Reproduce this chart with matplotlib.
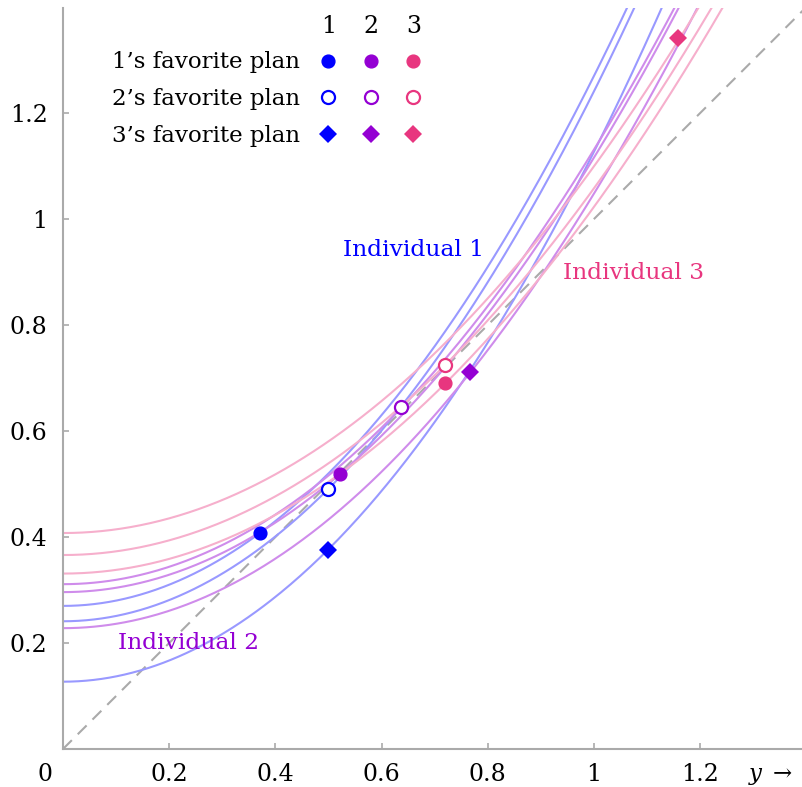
import matplotlib
matplotlib.use("Agg")
import matplotlib.pyplot as plt
import numpy as np

plt.rcParams['font.family'] = ['DejaVu Serif']
plt.rcParams['mathtext.fontset'] = 'dejavuserif'

# ---- data ----
individuals = ["Individual 1", "Individual 2", "Individual 3"]
marker_colors = ["#0000FF", "#9400D3", "#E8367F"]
curve_colors = ["#9999FF", "#CF8CEB", "#F6AFCC"]
curvature = [1.0, 0.82, 0.692]
# intercepts of each individual's indifference curves, by plan (1's, 2's, 3's favourite)
intercepts_ind1 = [0.270, 0.241, 0.127]
intercepts_ind2 = [0.296, 0.311, 0.228]
intercepts_ind3 = [0.331, 0.366, 0.4075]
# plan positions as seen by each individual
plan_x_ind1 = [0.371, 0.499, 0.499]
plan_y_ind1 = [0.4075, 0.4906, 0.3760]
plan_x_ind2 = [0.522, 0.636, 0.766]
plan_y_ind2 = [0.519, 0.645, 0.711]
plan_x_ind3 = [0.719, 0.719, 1.159]
plan_y_ind3 = [0.690, 0.7245, 1.341]
plan_labels = ["1\u2019s favorite plan", "2\u2019s favorite plan", "3\u2019s favorite plan"]
x_ticks = [0.2, 0.4, 0.6, 0.8, 1.0, 1.2]
x_ticklabels = ["0.2", "0.4", "0.6", "0.8", "1", "1.2"]
y_ticks = [0.2, 0.4, 0.6, 0.8, 1.0, 1.2]
y_ticklabels = ["0.2", "0.4", "0.6", "0.8", "1", "1.2"]

intercepts = [intercepts_ind1, intercepts_ind2, intercepts_ind3]
plan_x = [plan_x_ind1, plan_x_ind2, plan_x_ind3]
plan_y = [plan_y_ind1, plan_y_ind2, plan_y_ind3]

W, H = 802, 787
fig = plt.figure(figsize=(W / 100, H / 100), dpi=100)
x0, y0 = 63, 749
sx, sy = 531.0, 530.0
ax = fig.add_axes([x0 / W, (H - y0) / H, (W - x0) / W, (y0 - 8) / H])
ax.set_xlim(0, (W - x0) / sx)
ax.set_ylim(0, (y0 - 8) / sy)

def px(x):
    return (x - x0) / sx

def py(y):
    return (y0 - y) / sy

# diagonal
ax.plot([0, 1.5], [0, 1.5], color="#AAAAAA", lw=1.5, ls=(0, (6, 4)), zorder=1)

# curves
xs = np.linspace(0, 1.45, 400)
for i in range(3):
    for c in intercepts[i]:
        ax.plot(xs, c + curvature[i] * xs ** 2, color=curve_colors[i], lw=1.5, zorder=2)

# markers
def draw_marker(x, y, j, col):
    if j == 0:
        ax.plot(x, y, 'o', ms=9.2, color=col, mec=col, zorder=5, clip_on=False)
    elif j == 1:
        ax.plot(x, y, 'o', ms=9.4, mfc='white', mec=col, mew=1.6, zorder=5, clip_on=False)
    else:
        ax.plot(x, y, 'D', ms=9.4, color=col, mec=col, mew=0, zorder=5, clip_on=False)

for i in range(3):
    for j in range(3):
        draw_marker(plan_x[i][j], plan_y[i][j], j, marker_colors[i])

# legend table
fs = 16.5
col_x = [px(328.3), px(370.7), px(413.3)]
row_y = [py(61), py(97.3), py(134.3)]
row_base = [py(68.3), py(105), py(141.7)]
for i in range(3):
    ax.text(col_x[i], py(33.3), str(i + 1), ha='center', va='baseline', fontsize=17)
for j in range(3):
    ax.text(px(300), row_base[j], plan_labels[j], ha='right', va='baseline', fontsize=fs)
    for i in range(3):
        draw_marker(col_x[i], row_y[j], j, marker_colors[i])

# individual labels
ax.text(px(343), py(255.7), individuals[0], color=marker_colors[0], fontsize=16.8, ha='left', va='baseline')
ax.text(px(118), py(649), individuals[1], color=marker_colors[1], fontsize=16.8, ha='left', va='baseline')
ax.text(px(563), py(279.3), individuals[2], color=marker_colors[2], fontsize=16.8, ha='left', va='baseline')

# axes styling
for s in ['top', 'right']:
    ax.spines[s].set_visible(False)
for s in ['left', 'bottom']:
    ax.spines[s].set_color("#AAAAAA")
    ax.spines[s].set_linewidth(1.5)
ax.set_xticks(x_ticks)
ax.set_xticklabels(x_ticklabels)
ax.set_yticks(y_ticks)
ax.set_yticklabels(y_ticklabels)
ax.tick_params(direction='in', length=4, width=1.2, color="#AAAAAA", labelsize=17)
ax.tick_params(axis='x', pad=10)
ax.tick_params(axis='y', pad=11)

# origin label and axis arrow label
ax.text(px(45), py(781), "0", ha='center', va='baseline', fontsize=17, clip_on=False)
ax.text(px(748), py(780), r"$y\;\rightarrow$", ha='left', va='baseline', fontsize=16.5, clip_on=False)

fig.savefig("out.png", dpi=100)
